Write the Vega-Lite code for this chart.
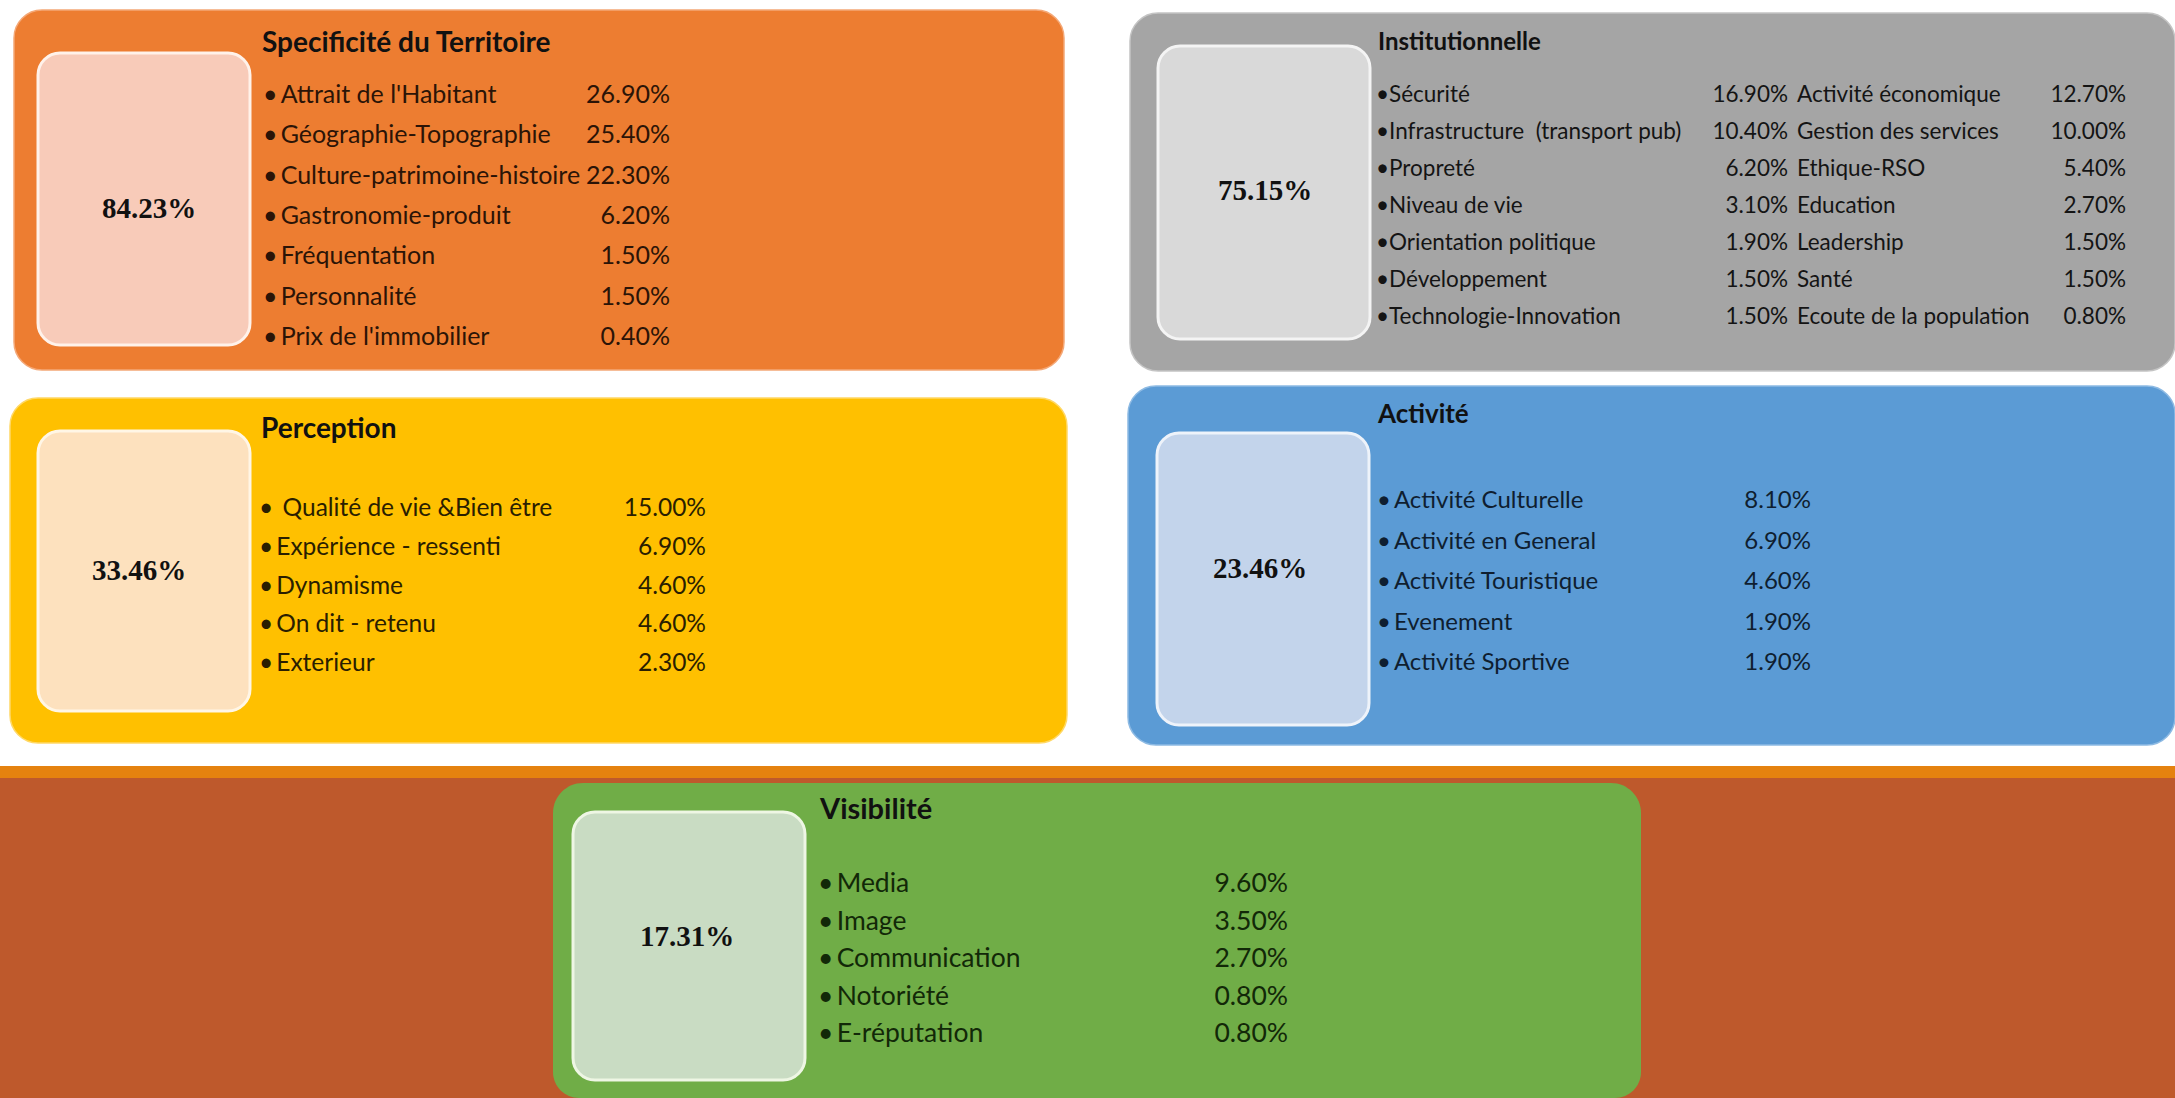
{
  "$schema": "https://vega.github.io/schema/vega-lite/v6.json",
  "width": 2175,
  "height": 1098,
  "padding": 0,
  "autosize": {"type": "none"},
  "background": "white",
  "config": {
    "view": {"stroke": null},
    "axis": {"disable": true},
    "legend": {"disable": true},
    "text": {"font": "Lato"}
  },
  "datasets": {
    "panels": [
      {"panel": "Specificité du Territoire", "total": 0.8423},
      {"panel": "Institutionnelle", "total": 0.7515},
      {"panel": "Perception", "total": 0.3346},
      {"panel": "Activité", "total": 0.2346},
      {"panel": "Visibilité", "total": 0.1731}
    ],
    "items": [
      {"panel": "Specificité du Territoire", "col": 1, "rank": 1, "label": "•\u2009Attrait de l'Habitant", "value": 0.269},
      {"panel": "Specificité du Territoire", "col": 1, "rank": 2, "label": "•\u2009Géographie-Topographie", "value": 0.254},
      {"panel": "Specificité du Territoire", "col": 1, "rank": 3, "label": "•\u2009Culture-patrimoine-histoire", "value": 0.223},
      {"panel": "Specificité du Territoire", "col": 1, "rank": 4, "label": "•\u2009Gastronomie-produit", "value": 0.062},
      {"panel": "Specificité du Territoire", "col": 1, "rank": 5, "label": "•\u2009Fréquentation", "value": 0.015},
      {"panel": "Specificité du Territoire", "col": 1, "rank": 6, "label": "•\u2009Personnalité", "value": 0.015},
      {"panel": "Specificité du Territoire", "col": 1, "rank": 7, "label": "•\u2009Prix de l'immobilier", "value": 0.004},
      {"panel": "Institutionnelle", "col": 1, "rank": 1, "label": "•Sécurité", "value": 0.169},
      {"panel": "Institutionnelle", "col": 1, "rank": 2, "label": "•Infrastructure \u00a0(transport pub)", "value": 0.104},
      {"panel": "Institutionnelle", "col": 1, "rank": 3, "label": "•Propreté", "value": 0.062},
      {"panel": "Institutionnelle", "col": 1, "rank": 4, "label": "•Niveau de vie", "value": 0.031},
      {"panel": "Institutionnelle", "col": 1, "rank": 5, "label": "•Orientation politique", "value": 0.019},
      {"panel": "Institutionnelle", "col": 1, "rank": 6, "label": "•Développement", "value": 0.015},
      {"panel": "Institutionnelle", "col": 1, "rank": 7, "label": "•Technologie-Innovation", "value": 0.015},
      {"panel": "Institutionnelle", "col": 2, "rank": 1, "label": "Activité économique", "value": 0.127},
      {"panel": "Institutionnelle", "col": 2, "rank": 2, "label": "Gestion des services", "value": 0.1},
      {"panel": "Institutionnelle", "col": 2, "rank": 3, "label": "Ethique-RSO", "value": 0.054},
      {"panel": "Institutionnelle", "col": 2, "rank": 4, "label": "Education", "value": 0.027},
      {"panel": "Institutionnelle", "col": 2, "rank": 5, "label": "Leadership", "value": 0.015},
      {"panel": "Institutionnelle", "col": 2, "rank": 6, "label": "Santé", "value": 0.015},
      {"panel": "Institutionnelle", "col": 2, "rank": 7, "label": "Ecoute de la population", "value": 0.008},
      {"panel": "Perception", "col": 1, "rank": 1, "label": "• \u2009Qualité de vie &Bien être", "value": 0.15},
      {"panel": "Perception", "col": 1, "rank": 2, "label": "•\u2009Expérience - ressenti", "value": 0.069},
      {"panel": "Perception", "col": 1, "rank": 3, "label": "•\u2009Dynamisme", "value": 0.046},
      {"panel": "Perception", "col": 1, "rank": 4, "label": "•\u2009On dit - retenu", "value": 0.046},
      {"panel": "Perception", "col": 1, "rank": 5, "label": "•\u2009Exterieur", "value": 0.023},
      {"panel": "Activité", "col": 1, "rank": 1, "label": "•\u2009Activité Culturelle", "value": 0.081},
      {"panel": "Activité", "col": 1, "rank": 2, "label": "•\u2009Activité en General", "value": 0.069},
      {"panel": "Activité", "col": 1, "rank": 3, "label": "•\u2009Activité Touristique", "value": 0.046},
      {"panel": "Activité", "col": 1, "rank": 4, "label": "•\u2009Evenement", "value": 0.019},
      {"panel": "Activité", "col": 1, "rank": 5, "label": "•\u2009Activité Sportive", "value": 0.019},
      {"panel": "Visibilité", "col": 1, "rank": 1, "label": "•\u2009Media", "value": 0.096},
      {"panel": "Visibilité", "col": 1, "rank": 2, "label": "•\u2009Image", "value": 0.035},
      {"panel": "Visibilité", "col": 1, "rank": 3, "label": "•\u2009Communication", "value": 0.027},
      {"panel": "Visibilité", "col": 1, "rank": 4, "label": "•\u2009Notoriété", "value": 0.008},
      {"panel": "Visibilité", "col": 1, "rank": 5, "label": "•\u2009E-réputation", "value": 0.008}
    ]
  },
  "resolve": {"scale": {"y": "independent"}},
  "layer": [
    {
      "data": {"name": "panels"},
      "layer": [
        {
          "transform": [{"filter": "datum.panel === 'Visibilité'"}],
          "mark": {"type": "rect", "fill": "#E5820F"},
          "encoding": {
            "x": {"datum": 0, "type": "quantitative", "scale": {"domain": [0, 2175], "range": [0, 2175], "nice": false, "zero": false}},
            "x2": {"datum": 2175},
            "y": {"datum": 766, "type": "quantitative", "scale": {"domain": [0, 1098], "range": [0, 1098], "nice": false, "zero": false}},
            "y2": {"datum": 778}
          }
        },
        {
          "transform": [{"filter": "datum.panel === 'Visibilité'"}],
          "mark": {"type": "rect", "fill": "#BE592C"},
          "encoding": {"x": {"datum": 0}, "x2": {"datum": 2175}, "y": {"datum": 778}, "y2": {"datum": 1098}}
        },
        {
          "transform": [{"filter": "datum.panel === 'Specificité du Territoire'"}],
          "layer": [
            {"mark": {"type": "rect", "fill": "#ED7D31", "cornerRadius": 28, "stroke": "#F4A877", "strokeWidth": 1.5},
             "encoding": {"x": {"datum": 14}, "x2": {"datum": 1064}, "y": {"datum": 10}, "y2": {"datum": 370}}},
            {"mark": {"type": "rect", "fill": "#F8CBB9", "cornerRadius": 22, "stroke": "#FFF2EA", "strokeWidth": 3},
             "encoding": {"x": {"datum": 38}, "x2": {"datum": 250}, "y": {"datum": 53}, "y2": {"datum": 345}}},
            {"mark": {"type": "text", "font": "Liberation Serif", "fontWeight": "bold", "fontSize": 29, "align": "center", "baseline": "middle", "color": "#111111"},
             "encoding": {"x": {"datum": 149}, "y": {"datum": 209}, "text": {"field": "total", "type": "quantitative", "format": ".2%"}}},
            {"mark": {"type": "text", "fontWeight": "bold", "fontSize": 28, "align": "left", "baseline": "middle", "color": "#111111"},
             "encoding": {"x": {"datum": 262}, "y": {"datum": 44}, "text": {"field": "panel"}}}
          ]
        },
        {
          "transform": [{"filter": "datum.panel === 'Institutionnelle'"}],
          "layer": [
            {"mark": {"type": "rect", "fill": "#A5A5A5", "cornerRadius": 28, "stroke": "#C4C4C4", "strokeWidth": 1.5},
             "encoding": {"x": {"datum": 1130}, "x2": {"datum": 2175}, "y": {"datum": 13}, "y2": {"datum": 371}}},
            {"mark": {"type": "rect", "fill": "#D9D9D9", "cornerRadius": 22, "stroke": "#F4F4F4", "strokeWidth": 3},
             "encoding": {"x": {"datum": 1158}, "x2": {"datum": 1370}, "y": {"datum": 46}, "y2": {"datum": 339}}},
            {"mark": {"type": "text", "font": "Liberation Serif", "fontWeight": "bold", "fontSize": 29, "align": "center", "baseline": "middle", "color": "#111111"},
             "encoding": {"x": {"datum": 1265}, "y": {"datum": 191}, "text": {"field": "total", "type": "quantitative", "format": ".2%"}}},
            {"mark": {"type": "text", "fontWeight": "bold", "fontSize": 24, "align": "left", "baseline": "middle", "color": "#111111"},
             "encoding": {"x": {"datum": 1378}, "y": {"datum": 43}, "text": {"field": "panel"}}}
          ]
        },
        {
          "transform": [{"filter": "datum.panel === 'Perception'"}],
          "layer": [
            {"mark": {"type": "rect", "fill": "#FFC000", "cornerRadius": 28, "stroke": "#FFD866", "strokeWidth": 1.5},
             "encoding": {"x": {"datum": 10}, "x2": {"datum": 1067}, "y": {"datum": 398}, "y2": {"datum": 743}}},
            {"mark": {"type": "rect", "fill": "#FDE1BE", "cornerRadius": 22, "stroke": "#FFF6E6", "strokeWidth": 3},
             "encoding": {"x": {"datum": 38}, "x2": {"datum": 250}, "y": {"datum": 431}, "y2": {"datum": 711}}},
            {"mark": {"type": "text", "font": "Liberation Serif", "fontWeight": "bold", "fontSize": 29, "align": "center", "baseline": "middle", "color": "#111111"},
             "encoding": {"x": {"datum": 139}, "y": {"datum": 571}, "text": {"field": "total", "type": "quantitative", "format": ".2%"}}},
            {"mark": {"type": "text", "fontWeight": "bold", "fontSize": 28, "align": "left", "baseline": "middle", "color": "#111111"},
             "encoding": {"x": {"datum": 261}, "y": {"datum": 430}, "text": {"field": "panel"}}}
          ]
        },
        {
          "transform": [{"filter": "datum.panel === 'Activité'"}],
          "layer": [
            {"mark": {"type": "rect", "fill": "#5B9BD5", "cornerRadius": 28, "stroke": "#8DBAE3", "strokeWidth": 1.5},
             "encoding": {"x": {"datum": 1128}, "x2": {"datum": 2175}, "y": {"datum": 386}, "y2": {"datum": 745}}},
            {"mark": {"type": "rect", "fill": "#C3D4EB", "cornerRadius": 22, "stroke": "#EEF3FA", "strokeWidth": 3},
             "encoding": {"x": {"datum": 1157}, "x2": {"datum": 1369}, "y": {"datum": 433}, "y2": {"datum": 725}}},
            {"mark": {"type": "text", "font": "Liberation Serif", "fontWeight": "bold", "fontSize": 29, "align": "center", "baseline": "middle", "color": "#111111"},
             "encoding": {"x": {"datum": 1260}, "y": {"datum": 569}, "text": {"field": "total", "type": "quantitative", "format": ".2%"}}},
            {"mark": {"type": "text", "fontWeight": "bold", "fontSize": 26, "align": "left", "baseline": "middle", "color": "#111111"},
             "encoding": {"x": {"datum": 1378}, "y": {"datum": 415}, "text": {"field": "panel"}}}
          ]
        },
        {
          "transform": [{"filter": "datum.panel === 'Visibilité'"}],
          "layer": [
            {"mark": {"type": "rect", "fill": "#70AD47", "cornerRadiusTopLeft": 30, "cornerRadiusTopRight": 30, "cornerRadiusBottomLeft": 26, "cornerRadiusBottomRight": 26},
             "encoding": {"x": {"datum": 553}, "x2": {"datum": 1641}, "y": {"datum": 783}, "y2": {"datum": 1098}}},
            {"mark": {"type": "rect", "fill": "#C9DCC3", "cornerRadius": 22, "stroke": "#EEF6E4", "strokeWidth": 3},
             "encoding": {"x": {"datum": 573}, "x2": {"datum": 805}, "y": {"datum": 812}, "y2": {"datum": 1080}}},
            {"mark": {"type": "text", "font": "Liberation Serif", "fontWeight": "bold", "fontSize": 29, "align": "center", "baseline": "middle", "color": "#111111"},
             "encoding": {"x": {"datum": 687}, "y": {"datum": 937}, "text": {"field": "total", "type": "quantitative", "format": ".2%"}}},
            {"mark": {"type": "text", "fontWeight": "bold", "fontSize": 29, "align": "left", "baseline": "middle", "color": "#111111"},
             "encoding": {"x": {"datum": 820}, "y": {"datum": 810}, "text": {"field": "panel"}}}
          ]
        }
      ]
    },
    {
      "data": {"name": "items"},
      "transform": [{"filter": "datum.panel === 'Specificité du Territoire'"}],
      "encoding": {"y": {"field": "rank", "type": "quantitative", "scale": {"domain": [1, 7], "range": [95, 337], "nice": false, "zero": false}}},
      "layer": [
        {"mark": {"type": "text", "fontSize": 25, "align": "left", "baseline": "middle", "color": "#2B1407"},
         "encoding": {"x": {"datum": 263}, "text": {"field": "label"}}},
        {"mark": {"type": "text", "fontSize": 25, "align": "right", "baseline": "middle", "color": "#2B1407"},
         "encoding": {"x": {"datum": 670}, "text": {"field": "value", "type": "quantitative", "format": ".2%"}}}
      ]
    },
    {
      "data": {"name": "items"},
      "transform": [{"filter": "datum.panel === 'Institutionnelle'"}],
      "encoding": {"y": {"field": "rank", "type": "quantitative", "scale": {"domain": [1, 7], "range": [95, 317], "nice": false, "zero": false}}},
      "layer": [
        {"transform": [{"filter": "datum.col === 1"}],
         "mark": {"type": "text", "fontSize": 22.5, "align": "left", "baseline": "middle", "color": "#141414"},
         "encoding": {"x": {"datum": 1376}, "text": {"field": "label"}}},
        {"transform": [{"filter": "datum.col === 1"}],
         "mark": {"type": "text", "fontSize": 22.5, "align": "right", "baseline": "middle", "color": "#141414"},
         "encoding": {"x": {"datum": 1788}, "text": {"field": "value", "type": "quantitative", "format": ".2%"}}},
        {"transform": [{"filter": "datum.col === 2"}],
         "mark": {"type": "text", "fontSize": 22.5, "align": "left", "baseline": "middle", "color": "#141414"},
         "encoding": {"x": {"datum": 1797}, "text": {"field": "label"}}},
        {"transform": [{"filter": "datum.col === 2"}],
         "mark": {"type": "text", "fontSize": 22.5, "align": "right", "baseline": "middle", "color": "#141414"},
         "encoding": {"x": {"datum": 2126}, "text": {"field": "value", "type": "quantitative", "format": ".2%"}}}
      ]
    },
    {
      "data": {"name": "items"},
      "transform": [{"filter": "datum.panel === 'Perception'"}],
      "encoding": {"y": {"field": "rank", "type": "quantitative", "scale": {"domain": [1, 5], "range": [509, 664], "nice": false, "zero": false}}},
      "layer": [
        {"mark": {"type": "text", "fontSize": 24.5, "align": "left", "baseline": "middle", "color": "#2A1E00"},
         "encoding": {"x": {"datum": 259}, "text": {"field": "label"}}},
        {"mark": {"type": "text", "fontSize": 24.5, "align": "right", "baseline": "middle", "color": "#2A1E00"},
         "encoding": {"x": {"datum": 706}, "text": {"field": "value", "type": "quantitative", "format": ".2%"}}}
      ]
    },
    {
      "data": {"name": "items"},
      "transform": [{"filter": "datum.panel === 'Activité'"}],
      "encoding": {"y": {"field": "rank", "type": "quantitative", "scale": {"domain": [1, 5], "range": [501, 663], "nice": false, "zero": false}}},
      "layer": [
        {"mark": {"type": "text", "fontSize": 24, "align": "left", "baseline": "middle", "color": "#0F1E30"},
         "encoding": {"x": {"datum": 1377}, "text": {"field": "label"}}},
        {"mark": {"type": "text", "fontSize": 24, "align": "right", "baseline": "middle", "color": "#0F1E30"},
         "encoding": {"x": {"datum": 1811}, "text": {"field": "value", "type": "quantitative", "format": ".2%"}}}
      ]
    },
    {
      "data": {"name": "items"},
      "transform": [{"filter": "datum.panel === 'Visibilité'"}],
      "encoding": {"y": {"field": "rank", "type": "quantitative", "scale": {"domain": [1, 5], "range": [884, 1034], "nice": false, "zero": false}}},
      "layer": [
        {"mark": {"type": "text", "fontSize": 26.5, "align": "left", "baseline": "middle", "color": "#122808"},
         "encoding": {"x": {"datum": 818}, "text": {"field": "label"}}},
        {"mark": {"type": "text", "fontSize": 26.5, "align": "right", "baseline": "middle", "color": "#122808"},
         "encoding": {"x": {"datum": 1288}, "text": {"field": "value", "type": "quantitative", "format": ".2%"}}}
      ]
    }
  ]
}
